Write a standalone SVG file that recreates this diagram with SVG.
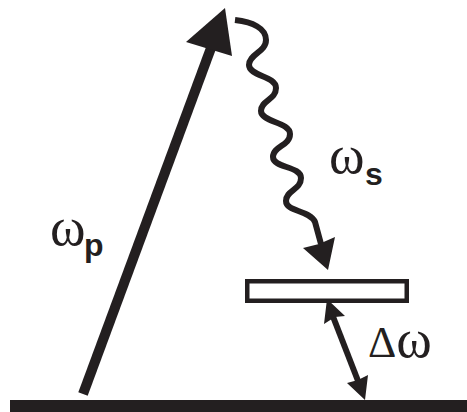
<svg xmlns="http://www.w3.org/2000/svg" width="467" height="412" viewBox="0 0 467 412">
<style>
.serif{font-family:"Liberation Serif","Times New Roman",serif;font-size:44px;fill:#231f20}
.om{font-size:54px}
.sub{font-family:"Liberation Sans",Arial,sans-serif;font-weight:bold;font-size:32px;fill:#231f20}
.ln{stroke:#231f20;fill:none}
.hd{fill:#231f20;stroke:none}
</style>
<rect width="467" height="412" fill="#ffffff"/>
<g id="ground"><rect x="10" y="400" width="457" height="12" fill="#231f20"/></g>
<g id="level"><rect x="247.25" y="281.25" width="159.5" height="19.5" fill="#ffffff" stroke="#231f20" stroke-width="4.5"/></g>
<g id="connectors">
<line class="ln" x1="83" y1="394" x2="211" y2="48" stroke-width="10"/>
<polygon class="hd" points="225,8 186,42 232,56"/>
<path class="ln" stroke-width="6" d="M235,20 C252,22 266,28 266,40 C266,52 249,54 249,65 C249,76 276,76 276,88 C276,100 261,100 261,111 C261,122 290,122 290,134 C290,146 273,146 273,157 C273,168 301,166 301,178 C301,190 286,190 286,201 C286,212 310,210 315,222 L321,244"/>
<polygon class="hd" points="328,270 303,248 319,244 335,237"/>
<line class="ln" x1="332" y1="314" x2="360" y2="386" stroke-width="6"/>
<polygon class="hd" points="327,299 345,316 335,317 324,324"/>
<polygon class="hd" points="365,400 368,375 358,380 347,383"/>
</g>
<g id="labels">
<text class="serif om" x="50" y="245">ω</text>
<text class="sub" x="84" y="256">p</text>
<text class="serif om" x="329" y="173">ω</text>
<text class="sub" x="365" y="185">s</text>
<text class="serif" x="368" y="357">Δ<tspan class="om">ω</tspan></text>
</g>
</svg>
